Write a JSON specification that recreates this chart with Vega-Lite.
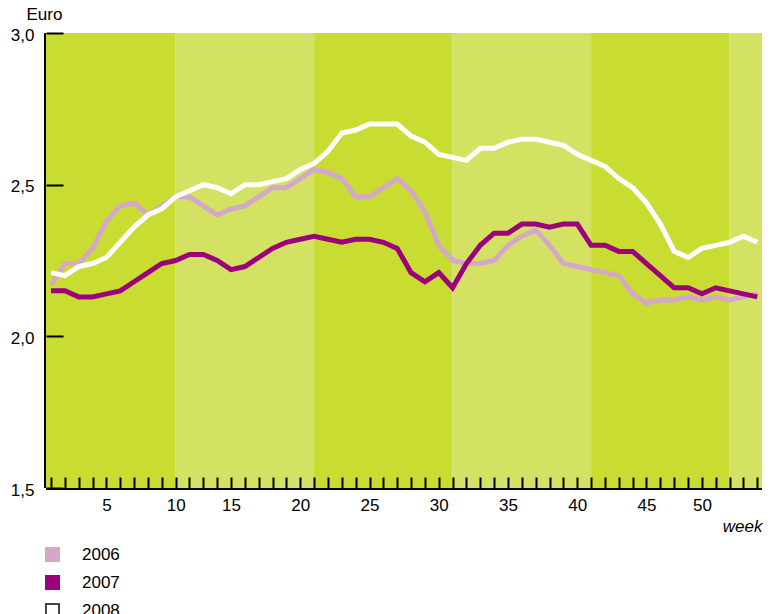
{
 "$schema": "https://vega.github.io/schema/vega-lite/v6.json",
 "width": 716, "height": 455,
 "autosize": {"type": "none"},
 "padding": {"left": 46, "top": 33, "right": 13, "bottom": 126},
 "background": "white",
 "config": {
  "font": "Liberation Sans",
  "view": {"stroke": null},
  "axis": {"grid": false, "domain": false, "tickColor": "black", "labelColor": "#000000", "titleColor": "#000000", "labelFontSize": 17, "titleFontSize": 17, "titleFontWeight": "normal", "tickWidth": 2, "zindex": 1}
 },
 "resolve": {"scale": {"fill": "independent"}},
 "encoding": {
  "x": {"field": "week", "type": "quantitative", "scale": {"domain": [0.64, 52.34], "nice": false, "zero": false},
   "axis": {"title": "week", "values": [1,2,3,4,5,6,7,8,9,10,11,12,13,14,15,16,17,18,19,20,21,22,23,24,25,26,27,28,29,30,31,32,33,34,35,36,37,38,39,40,41,42,43,44,45,46,47,48,49,50,51,52],
    "offset": -11, "tickSize": 11, "tickColor": "black", "tickWidth": 2, "labelPadding": 9, "labelOverlap": false, "labelFlush": false,
    "labelExpr": "datum.value === 5 ? '5' : datum.value === 10 ? '10' : datum.value === 14 ? '15' : datum.value === 19 ? '20' : datum.value === 24 ? '25' : datum.value === 29 ? '30' : datum.value === 34 ? '35' : datum.value === 39 ? '40' : datum.value === 44 ? '45' : datum.value === 48 ? '50' : ''",
    "titleFontStyle": "italic", "titleAlign": "right", "titleAnchor": "end", "titleX": 716, "titleY": 54, "titleBaseline": "alphabetic",
    "zindex": 1}}
 },
 "layer": [
  {
   "data": {"values": [
    {"week": 0.64, "week_end": 10, "shade": "dark"},
    {"week": 10, "week_end": 20, "shade": "light"},
    {"week": 20, "week_end": 30, "shade": "dark"},
    {"week": 30, "week_end": 40, "shade": "light"},
    {"week": 40, "week_end": 50, "shade": "dark"},
    {"week": 50, "week_end": 52.34, "shade": "light"}
   ]},
   "mark": {"type": "rect"},
   "encoding": {
    "x2": {"field": "week_end"},
    "fill": {"field": "shade", "type": "nominal", "scale": {"domain": ["dark", "light"], "range": ["#c8dc32", "#d4e264"]}, "legend": null}
   }
  },
  {
   "data": {"name": "prices", "values": [
    {"week":1,"year":"2006","price":2.17},{"week":2,"year":"2006","price":2.24},{"week":3,"year":"2006","price":2.24},{"week":4,"year":"2006","price":2.29},{"week":5,"year":"2006","price":2.38},{"week":6,"year":"2006","price":2.43},{"week":7,"year":"2006","price":2.44},{"week":8,"year":"2006","price":2.40},{"week":9,"year":"2006","price":2.43},{"week":10,"year":"2006","price":2.46},
    {"week":11,"year":"2006","price":2.46},{"week":12,"year":"2006","price":2.43},{"week":13,"year":"2006","price":2.40},{"week":14,"year":"2006","price":2.42},{"week":15,"year":"2006","price":2.43},{"week":16,"year":"2006","price":2.46},{"week":17,"year":"2006","price":2.49},{"week":18,"year":"2006","price":2.49},{"week":19,"year":"2006","price":2.52},{"week":20,"year":"2006","price":2.55},
    {"week":21,"year":"2006","price":2.54},{"week":22,"year":"2006","price":2.52},{"week":23,"year":"2006","price":2.46},{"week":24,"year":"2006","price":2.46},{"week":25,"year":"2006","price":2.49},{"week":26,"year":"2006","price":2.52},{"week":27,"year":"2006","price":2.48},{"week":28,"year":"2006","price":2.41},{"week":29,"year":"2006","price":2.30},{"week":30,"year":"2006","price":2.25},
    {"week":31,"year":"2006","price":2.24},{"week":32,"year":"2006","price":2.24},{"week":33,"year":"2006","price":2.25},{"week":34,"year":"2006","price":2.30},{"week":35,"year":"2006","price":2.33},{"week":36,"year":"2006","price":2.35},{"week":37,"year":"2006","price":2.30},{"week":38,"year":"2006","price":2.24},{"week":39,"year":"2006","price":2.23},{"week":40,"year":"2006","price":2.22},
    {"week":41,"year":"2006","price":2.21},{"week":42,"year":"2006","price":2.20},{"week":43,"year":"2006","price":2.14},{"week":44,"year":"2006","price":2.11},{"week":45,"year":"2006","price":2.12},{"week":46,"year":"2006","price":2.12},{"week":47,"year":"2006","price":2.13},{"week":48,"year":"2006","price":2.12},{"week":49,"year":"2006","price":2.13},{"week":50,"year":"2006","price":2.12},
    {"week":51,"year":"2006","price":2.13},{"week":52,"year":"2006","price":2.14},
    {"week":1,"year":"2007","price":2.15},{"week":2,"year":"2007","price":2.15},{"week":3,"year":"2007","price":2.13},{"week":4,"year":"2007","price":2.13},{"week":5,"year":"2007","price":2.14},{"week":6,"year":"2007","price":2.15},{"week":7,"year":"2007","price":2.18},{"week":8,"year":"2007","price":2.21},{"week":9,"year":"2007","price":2.24},{"week":10,"year":"2007","price":2.25},
    {"week":11,"year":"2007","price":2.27},{"week":12,"year":"2007","price":2.27},{"week":13,"year":"2007","price":2.25},{"week":14,"year":"2007","price":2.22},{"week":15,"year":"2007","price":2.23},{"week":16,"year":"2007","price":2.26},{"week":17,"year":"2007","price":2.29},{"week":18,"year":"2007","price":2.31},{"week":19,"year":"2007","price":2.32},{"week":20,"year":"2007","price":2.33},
    {"week":21,"year":"2007","price":2.32},{"week":22,"year":"2007","price":2.31},{"week":23,"year":"2007","price":2.32},{"week":24,"year":"2007","price":2.32},{"week":25,"year":"2007","price":2.31},{"week":26,"year":"2007","price":2.29},{"week":27,"year":"2007","price":2.21},{"week":28,"year":"2007","price":2.18},{"week":29,"year":"2007","price":2.21},{"week":30,"year":"2007","price":2.16},
    {"week":31,"year":"2007","price":2.24},{"week":32,"year":"2007","price":2.30},{"week":33,"year":"2007","price":2.34},{"week":34,"year":"2007","price":2.34},{"week":35,"year":"2007","price":2.37},{"week":36,"year":"2007","price":2.37},{"week":37,"year":"2007","price":2.36},{"week":38,"year":"2007","price":2.37},{"week":39,"year":"2007","price":2.37},{"week":40,"year":"2007","price":2.30},
    {"week":41,"year":"2007","price":2.30},{"week":42,"year":"2007","price":2.28},{"week":43,"year":"2007","price":2.28},{"week":44,"year":"2007","price":2.24},{"week":45,"year":"2007","price":2.20},{"week":46,"year":"2007","price":2.16},{"week":47,"year":"2007","price":2.16},{"week":48,"year":"2007","price":2.14},{"week":49,"year":"2007","price":2.16},{"week":50,"year":"2007","price":2.15},
    {"week":51,"year":"2007","price":2.14},{"week":52,"year":"2007","price":2.13},
    {"week":1,"year":"2008","price":2.21},{"week":2,"year":"2008","price":2.20},{"week":3,"year":"2008","price":2.23},{"week":4,"year":"2008","price":2.24},{"week":5,"year":"2008","price":2.26},{"week":6,"year":"2008","price":2.31},{"week":7,"year":"2008","price":2.36},{"week":8,"year":"2008","price":2.40},{"week":9,"year":"2008","price":2.42},{"week":10,"year":"2008","price":2.46},
    {"week":11,"year":"2008","price":2.48},{"week":12,"year":"2008","price":2.50},{"week":13,"year":"2008","price":2.49},{"week":14,"year":"2008","price":2.47},{"week":15,"year":"2008","price":2.50},{"week":16,"year":"2008","price":2.50},{"week":17,"year":"2008","price":2.51},{"week":18,"year":"2008","price":2.52},{"week":19,"year":"2008","price":2.55},{"week":20,"year":"2008","price":2.57},
    {"week":21,"year":"2008","price":2.61},{"week":22,"year":"2008","price":2.67},{"week":23,"year":"2008","price":2.68},{"week":24,"year":"2008","price":2.70},{"week":25,"year":"2008","price":2.70},{"week":26,"year":"2008","price":2.70},{"week":27,"year":"2008","price":2.66},{"week":28,"year":"2008","price":2.64},{"week":29,"year":"2008","price":2.60},{"week":30,"year":"2008","price":2.59},
    {"week":31,"year":"2008","price":2.58},{"week":32,"year":"2008","price":2.62},{"week":33,"year":"2008","price":2.62},{"week":34,"year":"2008","price":2.64},{"week":35,"year":"2008","price":2.65},{"week":36,"year":"2008","price":2.65},{"week":37,"year":"2008","price":2.64},{"week":38,"year":"2008","price":2.63},{"week":39,"year":"2008","price":2.60},{"week":40,"year":"2008","price":2.58},
    {"week":41,"year":"2008","price":2.56},{"week":42,"year":"2008","price":2.52},{"week":43,"year":"2008","price":2.49},{"week":44,"year":"2008","price":2.44},{"week":45,"year":"2008","price":2.37},{"week":46,"year":"2008","price":2.28},{"week":47,"year":"2008","price":2.26},{"week":48,"year":"2008","price":2.29},{"week":49,"year":"2008","price":2.30},{"week":50,"year":"2008","price":2.31},
    {"week":51,"year":"2008","price":2.33},{"week":52,"year":"2008","price":2.31}
   ]},
   "mark": {"type": "line", "strokeWidth": 5},
   "encoding": {
    "y": {"field": "price", "type": "quantitative", "scale": {"domain": [1.5, 3], "nice": false, "zero": false},
     "axis": {"title": "Euro", "values": [1.5, 2, 2.5, 3], "offset": -17, "tickSize": 17, "tickColor": "black", "tickWidth": 2, "labelPadding": 12, "labelOffset": 2,
      "labelExpr": "replace(format(datum.value, '.1f'), '.', ',')",
      "titleAngle": 0, "titleAlign": "left", "titleBaseline": "alphabetic", "titleX": -37, "titleY": -13.5, "zindex": 1}},
    "color": {"field": "year", "type": "nominal", "scale": {"domain": ["2006", "2007", "2008"], "range": ["#d4a8c8", "#9c007c", "#ffffff"]}, "legend": null}
   }
  },
  {
   "data": {"name": "prices"},
   "transform": [{"filter": "false"}],
   "mark": {"type": "square", "filled": true, "opacity": 1, "size": 170},
   "encoding": {
    "y": {"field": "price", "type": "quantitative"},
    "fill": {"field": "year", "type": "nominal", "scale": {"domain": ["2006", "2007", "2008"], "range": ["#d4a8c8", "#9c007c", "#ffffff"]},
     "legend": {"orient": "none", "legendX": -2, "legendY": 513, "direction": "vertical", "title": null, "symbolType": "square", "symbolSize": 170, "symbolStrokeColor": "#444444", "symbolStrokeWidth": 2, "symbolOpacity": 1, "labelFontSize": 17, "labelColor": "#000000", "labelOffset": 21, "rowPadding": 5, "padding": 0,
      "encode": {"symbols": {"update": {"stroke": {"signal": "datum.value === '2008' ? '#444444' : datum.value === '2006' ? '#d4a8c8' : '#9c007c'"}, "strokeWidth": {"value": 2}}}}}}
   }
  },
  {
   "data": {"values": [{"edge": 0.568}]},
   "mark": {"type": "rule", "color": "black", "strokeWidth": 2},
   "encoding": {"x": {"field": "edge", "type": "quantitative"}}
  },
  {
   "data": {"values": [{"floor": 1.4967}]},
   "mark": {"type": "rule", "color": "black", "strokeWidth": 2},
   "encoding": {"y": {"field": "floor", "type": "quantitative"}, "x": null}
  }
 ]
}
